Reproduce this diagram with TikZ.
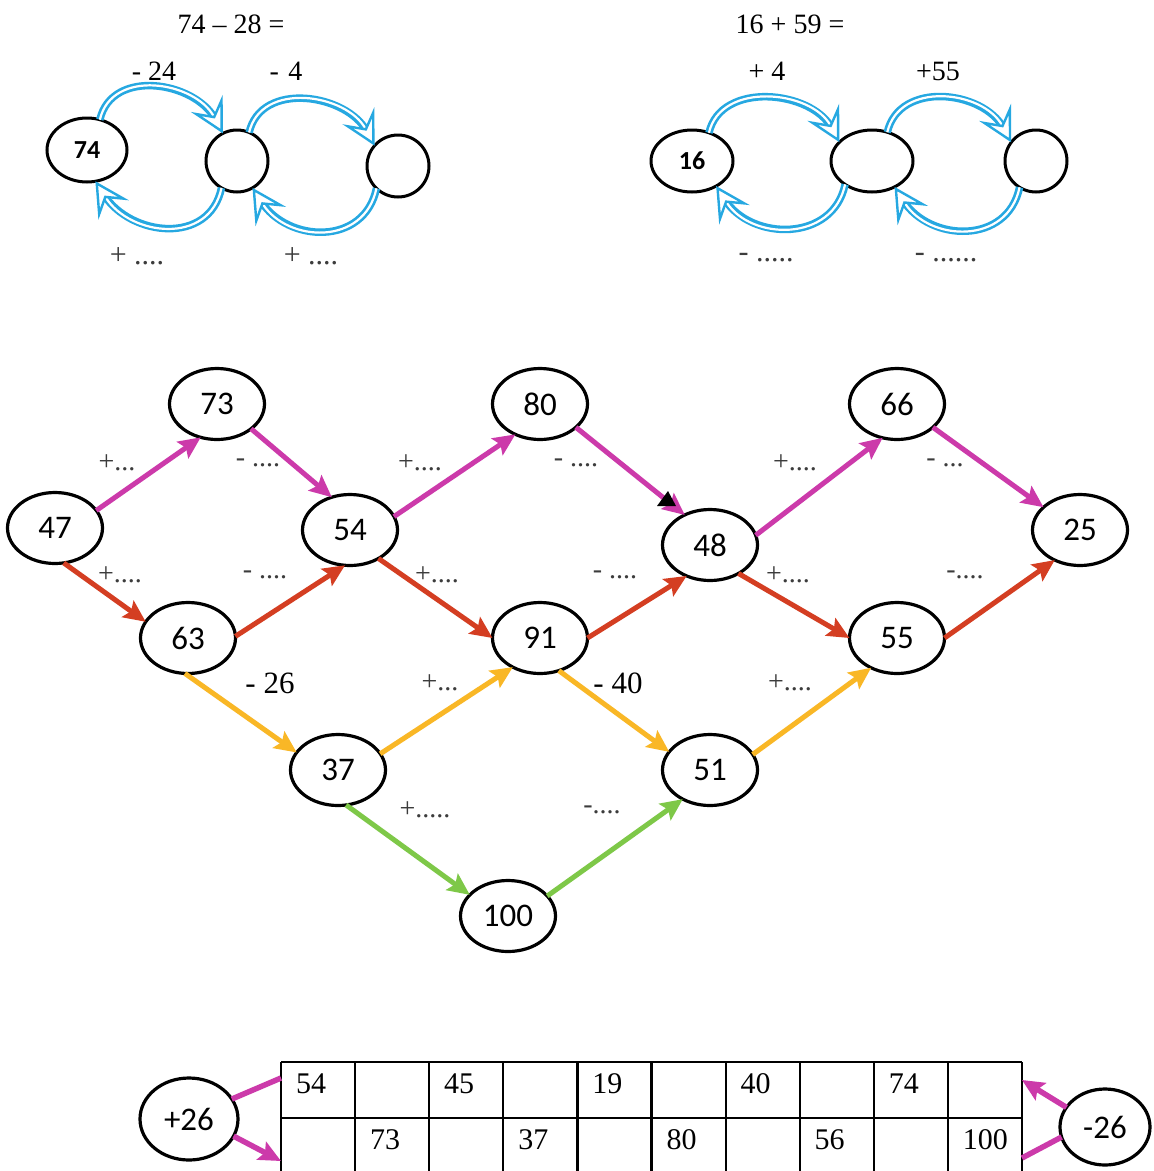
\documentclass[tikz,border=0pt]{standalone}
\usepackage{fontspec}
\setmainfont{Liberation Serif}
\newfontfamily\cfont{Carlito}
\usetikzlibrary{arrows.meta,shapes.geometric}
\definecolor{skyb}{RGB}{38,168,225}
\definecolor{magc}{RGB}{204,58,170}
\definecolor{redc}{RGB}{212,62,34}
\definecolor{orac}{RGB}{249,183,38}
\definecolor{grnc}{RGB}{126,200,72}
\definecolor{lblc}{RGB}{60,60,60}
\newcommand{\bluearc}[1]{%
  \draw[skyb, line width=7.5pt, shorten >=16pt] #1;
  \draw[white, line width=2.2pt, -{Stealth[open, color=skyb, fill=white, line width=2.4pt, length=34pt, width=36pt, inset=14pt]}] #1;}
\begin{document}
\begin{tikzpicture}[x=1pt,y=-1pt,
  every node/.style={inner sep=0pt, outer sep=0pt},
  gnode/.style={ellipse, draw, line width=3.2pt, minimum width=95pt, minimum height=71pt, font=\cfont\fontsize{33}{33}\selectfont},
  tnode/.style={ellipse, draw, line width=3pt, font=\cfont\bfseries\fontsize{26}{26}\selectfont},
  lbl/.style={font=\fontsize{28}{28}\selectfont, text=lblc},
  blk/.style={font=\fontsize{31}{31}\selectfont, text=black},
  toplbl/.style={font=\fontsize{28}{28}\selectfont},
  topgray/.style={font=\fontsize{30}{30}\selectfont, text=lblc},
  tabtxt/.style={font=\fontsize{30}{30}\selectfont, anchor=base west},
  garrow/.style={line width=5pt, -{Stealth[length=22pt,width=20pt,inset=4pt]}},
  magA/.style={garrow, draw=magc},
  redA/.style={garrow, draw=redc},
  oraA/.style={garrow, draw=orac},
  grnA/.style={garrow, draw=grnc},
  tabline/.style={line width=2.2pt, black}
]
\useasboundingbox (0,0) rectangle (1154,1171);
\clip (0,0) rectangle (1154,1171);
\fill[white] (0,0) rectangle (1154,1171);

% ---------- top left ----------
\node[toplbl] (eq1) at (231,24) {74 -- 28 =};
\node[toplbl] (s24) at (154,71) {- 24};
\node[toplbl] (s4) at (286,71) {-\,\,4};
\node[tnode, minimum width=80pt, minimum height=64pt] (a74) at (87,150) {74};
\node[tnode, minimum width=62pt, minimum height=62pt] (b1) at (237,161) {};
\node[tnode, minimum width=62pt, minimum height=62pt] (b2) at (398,166) {};
\bluearc{(a74.67) .. controls +(12,-52) and +(-28,-52) .. (b1.117)}
\bluearc{(b1.67) .. controls +(12,-52) and +(-28,-52) .. (b2.139)}
\bluearc{(b1.240) .. controls +(-12,58) and +(35,55) .. (a74.285)}
\bluearc{(b2.226) .. controls +(-12,58) and +(35,55) .. (b1.300)}
\node[topgray] (pl1) at (137,256) {+ ....};
\node[topgray] (pl2) at (311,256) {+ ....};

% ---------- top right ----------
\node[toplbl] (eq2) at (790,24) {16 + 59 =};
\node[toplbl] (p4) at (767,71) {+ 4};
\node[toplbl] (p55) at (938,71) {+55};
\node[tnode, minimum width=82pt, minimum height=62pt] (a16) at (692,161) {16};
\node[tnode, minimum width=82pt, minimum height=62pt] (c1) at (872,161) {};
\node[tnode, minimum width=62pt, minimum height=62pt] (c2) at (1036,161) {};
\bluearc{(a16.59) .. controls +(12,-52) and +(-28,-52) .. (c1.150)}
\bluearc{(c1.62) .. controls +(12,-52) and +(-28,-52) .. (c2.143)}
\bluearc{(c1.221) .. controls +(-12,58) and +(35,55) .. (a16.314)}
\bluearc{(c2.238) .. controls +(-12,58) and +(35,55) .. (c1.311)}
\node[topgray] (mi1) at (766,258) {- .....};
\node[topgray] (mi2) at (946,258) {- ......};

% ---------- graph ----------
\node[gnode] (n73) at (217,404) {73};
\node[gnode] (n80) at (540,404) {80};
\node[gnode] (n66) at (897,404) {66};
\node[gnode] (n47) at (55,528) {47};
\node[gnode] (n54) at (350,530) {54};
\node[gnode] (n48) at (710,545) {48};
\node[gnode] (n25) at (1080,530) {25};
\node[gnode] (n63) at (188,638) {63};
\node[gnode] (n91) at (540,638) {91};
\node[gnode] (n55) at (897,638) {55};
\node[gnode] (n37) at (338,770) {37};
\node[gnode] (n51) at (710,770) {51};
\node[gnode] (n100) at (508,916) {100};

\draw[magA] (n47.23) -- (n73.244);
\draw[magA] (n73.324) -- (n54.119);
\draw[magA] (n54.17) -- (n80.231);
\draw[magA] (n80.327) -- (n48.130);
\draw[magA] (n48.12) -- (n66.247);
\draw[magA] (n66.327) -- (n25.148);

\draw[redA] (n47.284) -- (n63.159);
\draw[redA] (n63.2) -- (n54.262);
\draw[redA] (n54.315) -- (n91.180);
\draw[redA] (n91.0) -- (n48.233);
\draw[redA] (n48.315) -- (n55.180);
\draw[redA] (n55.0) -- (n25.230);

\draw[oraA] (n63.265) -- (n37.157);
\draw[oraA] (n37.21) -- (n91.227);
\draw[oraA] (n91.300) -- (n51.156);
\draw[oraA] (n51.20) -- (n55.229);

\draw[grnA] (n37.283) -- (n100.151);
\draw[grnA] (n100.27) -- (n51.227);

\fill (657,506) -- (676,506) -- (668,491) -- cycle;

\node[lbl] (g1) at (117,463) {+...};
\node[lbl] (g2) at (258,463) {- ....};
\node[lbl] (g3) at (420,463) {+....};
\node[lbl] (g4) at (576,463) {- ....};
\node[lbl] (g5) at (795,463) {+....};
\node[lbl] (g6) at (945,463) {- ...};
\node[lbl] (g7) at (120,575) {+....};
\node[lbl] (g8) at (265,575) {- ....};
\node[lbl] (g9) at (437,575) {+....};
\node[lbl] (g10) at (615,575) {- ....};
\node[lbl] (g11) at (788,575) {+....};
\node[lbl] (g12) at (965,575) {-....};
\node[blk] (g13) at (270,683) {- 26};
\node[lbl] (g14) at (440,683) {+...};
\node[blk] (g15) at (618,683) {- 40};
\node[lbl] (g16) at (790,683) {+....};
\node[lbl] (g17) at (425,810) {+.....};
\node[lbl] (g18) at (602,810) {-....};

% ---------- table ----------
\foreach \i in {0,...,10} {\draw[tabline] ({281+\i*74.1},1062) -- ({281+\i*74.1},1190);}
\draw[tabline] (281,1062) -- (1022,1062);
\draw[tabline] (281,1118) -- (1022,1118);
\foreach \v [count=\k from 0] in {54,,45,,19,,40,,74,} {\node[tabtxt] (r1c\k) at ({296+\k*74.1},1093) {\v};}
\foreach \v [count=\k from 0] in {,73,,37,,80,,56,,100} {\node[tabtxt] (r2c\k) at ({296+\k*74.1},1149) {\v};}

\coordinate (tl) at (281,1078);
\coordinate (bl) at (281,1161);
\coordinate (tr) at (1022,1080);
\coordinate (br) at (1022,1158);
\node[gnode, minimum width=98pt, minimum height=82pt, font=\cfont\fontsize{33}{33}\selectfont] (p26) at (189,1119) {+26};
\node[gnode, minimum width=90pt, minimum height=76pt, font=\cfont\fontsize{33}{33}\selectfont] (m26) at (1105,1127) {-26};
\draw[magc, line width=5.5pt] (p26.25) -- (tl);
\draw[magc, line width=5.5pt, -{Stealth[length=22pt,width=20pt,inset=4pt]}] (p26.339) -- (bl);
\draw[magc, line width=5.5pt, -{Stealth[length=22pt,width=20pt,inset=4pt]}] (m26.153) -- (tr);
\draw[magc, line width=5.5pt] (m26.193) -- (br);
\end{tikzpicture}
\end{document}
